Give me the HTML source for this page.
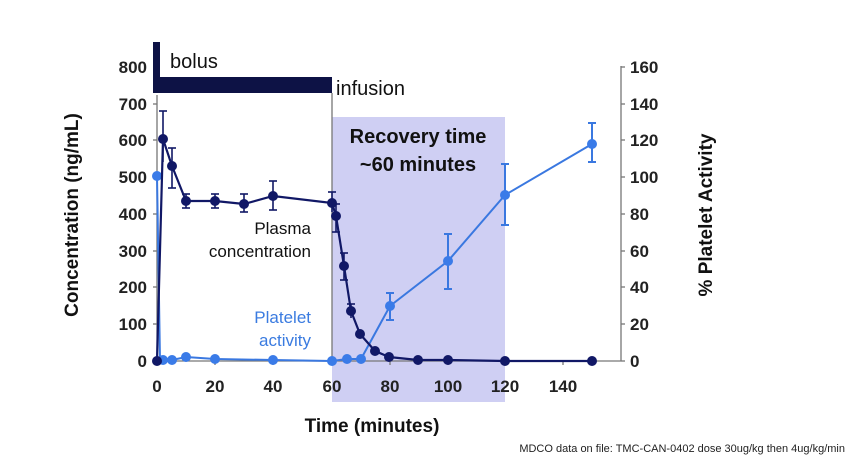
<!DOCTYPE html>
<html><head><meta charset="utf-8"><style>body{margin:0;background:#fff}svg{display:block}</style></head><body>
<svg width="850" height="458" xmlns="http://www.w3.org/2000/svg" font-family="Liberation Sans, Arial, sans-serif">
<rect width="850" height="458" fill="#fff"/>
<rect x="332" y="117" width="173" height="285" fill="#cfcff3"/>
<!-- axes -->
<g stroke="#777" stroke-width="1.3" fill="none">
<line x1="157" y1="95" x2="157" y2="361"/>
<line x1="157" y1="361" x2="621" y2="361"/>
<line x1="621" y1="66" x2="621" y2="361"/>
<line x1="332" y1="93" x2="332" y2="361"/>
</g>
<g stroke="#777" stroke-width="1.3">
<line x1="153" y1="361" x2="157" y2="361"/><line x1="153" y1="324" x2="157" y2="324"/><line x1="153" y1="287" x2="157" y2="287"/><line x1="153" y1="251" x2="157" y2="251"/><line x1="153" y1="214" x2="157" y2="214"/><line x1="153" y1="177" x2="157" y2="177"/><line x1="153" y1="140" x2="157" y2="140"/><line x1="153" y1="104" x2="157" y2="104"/><line x1="153" y1="67" x2="157" y2="67"/>
<line x1="621" y1="361" x2="625" y2="361"/><line x1="621" y1="324" x2="625" y2="324"/><line x1="621" y1="287" x2="625" y2="287"/><line x1="621" y1="251" x2="625" y2="251"/><line x1="621" y1="214" x2="625" y2="214"/><line x1="621" y1="177" x2="625" y2="177"/><line x1="621" y1="140" x2="625" y2="140"/><line x1="621" y1="104" x2="625" y2="104"/><line x1="621" y1="67" x2="625" y2="67"/>
<line x1="215" y1="361" x2="215" y2="365"/><line x1="273" y1="361" x2="273" y2="365"/><line x1="332" y1="361" x2="332" y2="365"/><line x1="390" y1="361" x2="390" y2="365"/><line x1="448" y1="361" x2="448" y2="365"/><line x1="505" y1="361" x2="505" y2="365"/><line x1="563" y1="361" x2="563" y2="365"/>
</g>
<g font-size="17" font-weight="bold" fill="#222" text-anchor="end">
<text x="147" y="367">0</text><text x="147" y="330">100</text><text x="147" y="293">200</text><text x="147" y="257">300</text><text x="147" y="220">400</text><text x="147" y="183">500</text><text x="147" y="146">600</text><text x="147" y="110">700</text><text x="147" y="73">800</text>
</g>
<g font-size="17" font-weight="bold" fill="#222">
<text x="630" y="367">0</text><text x="630" y="330">20</text><text x="630" y="293">40</text><text x="630" y="257">60</text><text x="630" y="220">80</text><text x="630" y="183">100</text><text x="630" y="146">120</text><text x="630" y="110">140</text><text x="630" y="73">160</text>
</g>
<g font-size="17" font-weight="bold" fill="#222" text-anchor="middle">
<text x="157" y="392">0</text><text x="215" y="392">20</text><text x="273" y="392">40</text><text x="332" y="392">60</text><text x="390" y="392">80</text><text x="448" y="392">100</text><text x="505" y="392">120</text><text x="563" y="392">140</text>
</g>
<text x="372" y="432" font-size="19" font-weight="bold" fill="#111" text-anchor="middle">Time (minutes)</text>
<text transform="translate(78,215) rotate(-90)" font-size="19" font-weight="bold" fill="#111" text-anchor="middle">Concentration (ng/mL)</text>
<text transform="translate(712,215) rotate(-90)" font-size="19" font-weight="bold" fill="#111" text-anchor="middle">% Platelet Activity</text>
<text x="845" y="452" font-size="11" fill="#222" text-anchor="end">MDCO data on file: TMC-CAN-0402 dose 30ug/kg then 4ug/kg/min</text>
<!-- bolus/infusion bar -->
<rect x="153" y="42" width="7" height="51" fill="#0d1245"/>
<rect x="153" y="77" width="179" height="16" fill="#0d1245"/>
<text x="170" y="68" font-size="20" fill="#111">bolus</text>
<text x="336" y="95" font-size="20" fill="#111">infusion</text>
<text x="418" y="143" font-size="20" font-weight="bold" fill="#111" text-anchor="middle">Recovery time</text>
<text x="418" y="171" font-size="20" font-weight="bold" fill="#111" text-anchor="middle">~60 minutes</text>
<text x="311" y="234" font-size="17" fill="#111" text-anchor="end">Plasma</text>
<text x="311" y="257" font-size="17" fill="#111" text-anchor="end">concentration</text>
<text x="311" y="323" font-size="17" fill="#3a7be0" text-anchor="end">Platelet</text>
<text x="311" y="346" font-size="17" fill="#3a7be0" text-anchor="end">activity</text>
<!-- platelet series -->
<g stroke="#3a78e0" stroke-width="2" fill="none">
<polyline points="157,176 160,361 163,360 172,360 186,357 215,359 273,360 332,361 347,359 361,359 390,306 448,261 505,195 592,144"/>
<line x1="390" y1="320" x2="390" y2="293"/><line x1="386" y1="320" x2="394" y2="320"/><line x1="386" y1="293" x2="394" y2="293"/>
<line x1="448" y1="289" x2="448" y2="234"/><line x1="444" y1="289" x2="452" y2="289"/><line x1="444" y1="234" x2="452" y2="234"/>
<line x1="505" y1="225" x2="505" y2="164"/><line x1="501" y1="225" x2="509" y2="225"/><line x1="501" y1="164" x2="509" y2="164"/>
<line x1="592" y1="162" x2="592" y2="123"/><line x1="588" y1="162" x2="596" y2="162"/><line x1="588" y1="123" x2="596" y2="123"/>
</g>
<g fill="#3a7be8">
<circle cx="157" cy="176" r="5"/><circle cx="163" cy="360" r="5"/><circle cx="172" cy="360" r="5"/><circle cx="186" cy="357" r="5"/><circle cx="215" cy="359" r="5"/><circle cx="273" cy="360" r="5"/><circle cx="332" cy="361" r="5"/><circle cx="347" cy="359" r="5"/><circle cx="361" cy="359" r="5"/><circle cx="390" cy="306" r="5"/><circle cx="448" cy="261" r="5"/><circle cx="505" cy="195" r="5"/><circle cx="592" cy="144" r="5"/>
</g>
<!-- plasma series -->
<g stroke="#111866" stroke-width="2.2" fill="none">
<polyline points="157,361 163,139 172,166 186,201 215,201 244,204 273,196 332,203 336,216 344,266 351,311 360,334 375,351 389,357 418,360 448,360 505,361 592,361"/>
<g stroke-width="1.6">
<line x1="163" y1="162" x2="163" y2="111"/><line x1="159" y1="111" x2="167" y2="111"/>
<line x1="172" y1="188" x2="172" y2="148"/><line x1="168" y1="188" x2="176" y2="188"/><line x1="168" y1="148" x2="176" y2="148"/>
<line x1="186" y1="208" x2="186" y2="194"/><line x1="182" y1="208" x2="190" y2="208"/><line x1="182" y1="194" x2="190" y2="194"/>
<line x1="215" y1="208" x2="215" y2="194"/><line x1="211" y1="208" x2="219" y2="208"/><line x1="211" y1="194" x2="219" y2="194"/>
<line x1="244" y1="212" x2="244" y2="194"/><line x1="240" y1="212" x2="248" y2="212"/><line x1="240" y1="194" x2="248" y2="194"/>
<line x1="273" y1="210" x2="273" y2="181"/><line x1="269" y1="210" x2="277" y2="210"/><line x1="269" y1="181" x2="277" y2="181"/>
<line x1="332" y1="212" x2="332" y2="192"/><line x1="328" y1="192" x2="336" y2="192"/>
<line x1="336" y1="232" x2="336" y2="204"/><line x1="332" y1="232" x2="340" y2="232"/><line x1="332" y1="204" x2="340" y2="204"/>
<line x1="344" y1="280" x2="344" y2="253"/><line x1="340" y1="280" x2="348" y2="280"/><line x1="340" y1="253" x2="348" y2="253"/>
<line x1="351" y1="318" x2="351" y2="304"/><line x1="347" y1="304" x2="355" y2="304"/>
</g>
</g>
<g fill="#111866">
<circle cx="157" cy="361" r="5"/><circle cx="163" cy="139" r="5"/><circle cx="172" cy="166" r="5"/><circle cx="186" cy="201" r="5"/><circle cx="215" cy="201" r="5"/><circle cx="244" cy="204" r="5"/><circle cx="273" cy="196" r="5"/><circle cx="332" cy="203" r="5"/><circle cx="336" cy="216" r="5"/><circle cx="344" cy="266" r="5"/><circle cx="351" cy="311" r="5"/><circle cx="360" cy="334" r="5"/><circle cx="375" cy="351" r="5"/><circle cx="389" cy="357" r="5"/><circle cx="418" cy="360" r="5"/><circle cx="448" cy="360" r="5"/><circle cx="505" cy="361" r="5"/><circle cx="592" cy="361" r="5"/>
</g>
</svg>
</body></html>
